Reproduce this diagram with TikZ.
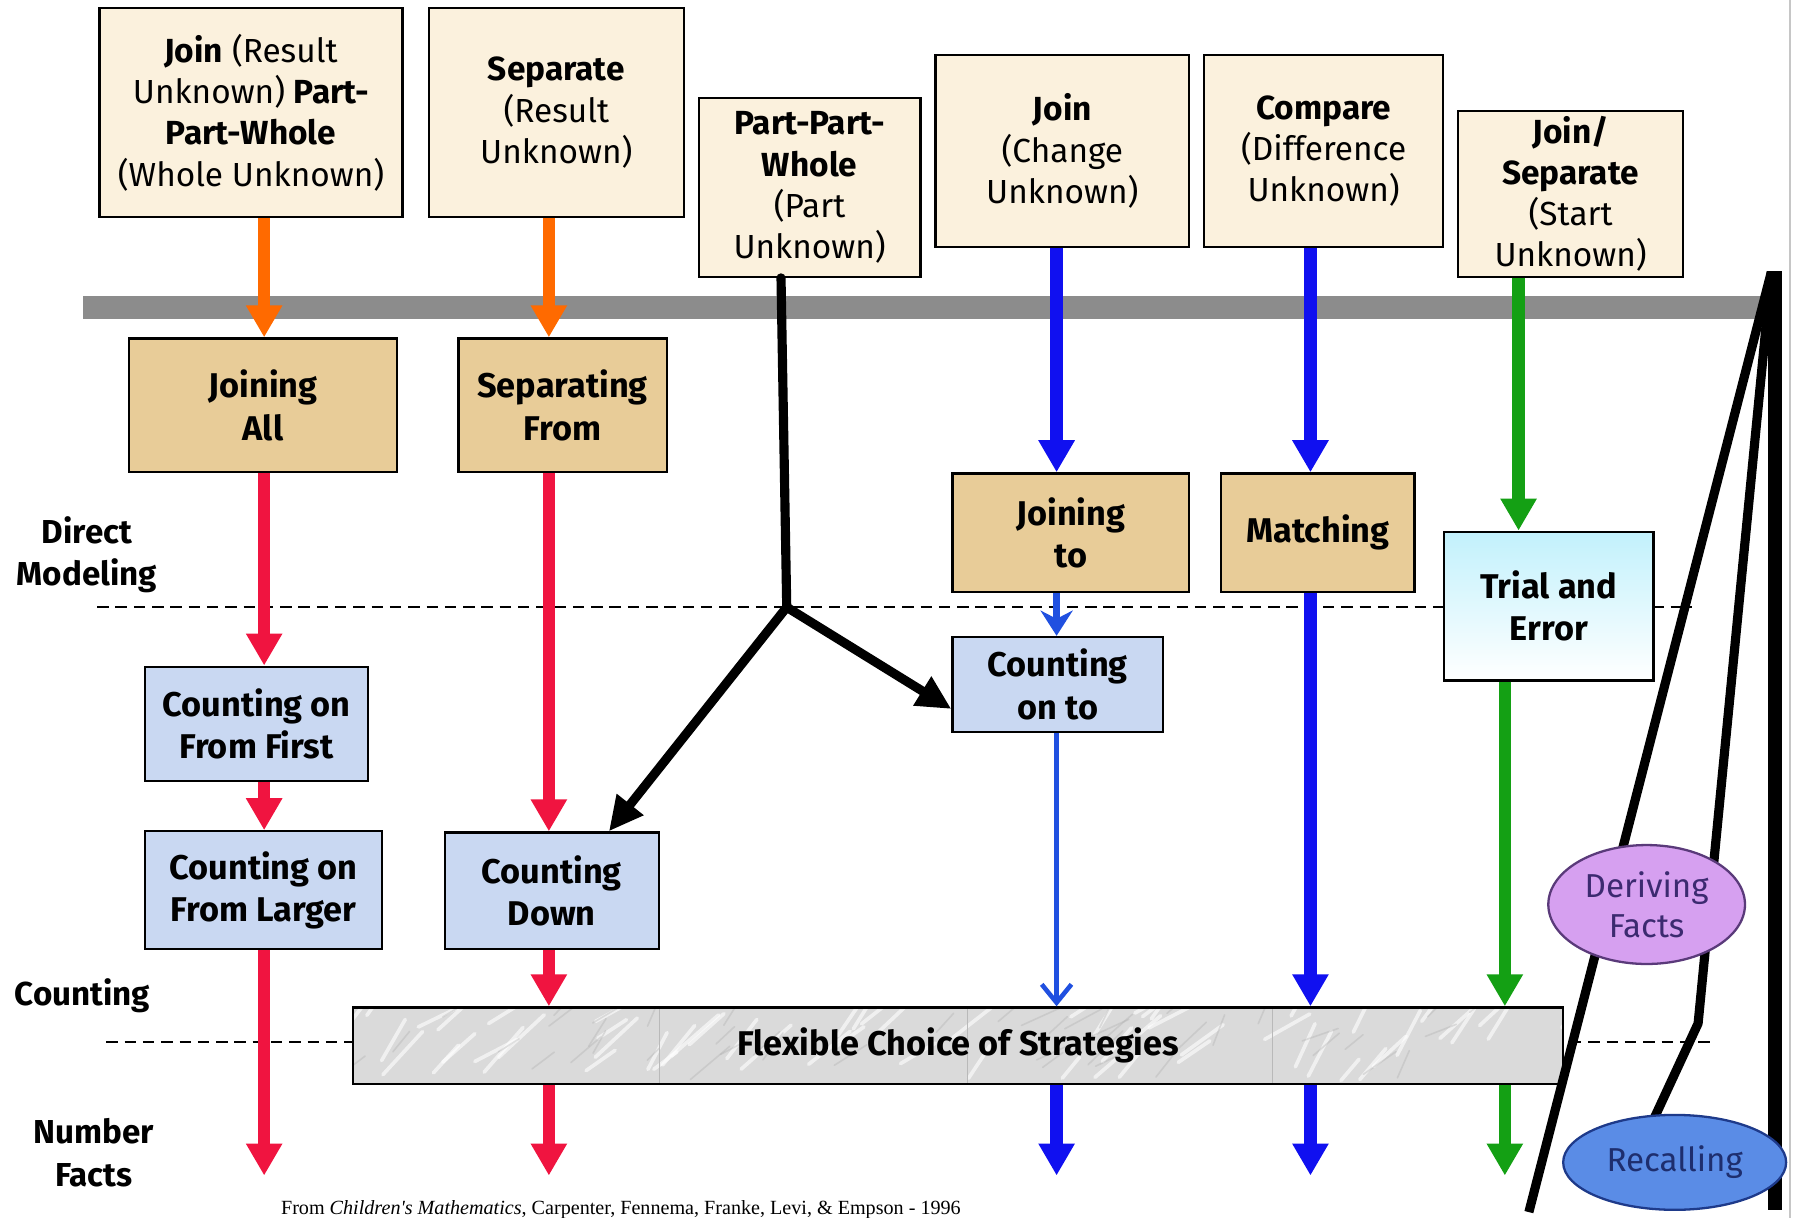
\documentclass[tikz,border=0pt]{standalone}
\usepackage{fontspec}
\setmainfont{Fira Sans}
\newfontfamily\citefont{Liberation Serif}
\usetikzlibrary{arrows.meta,shapes.geometric,calc}
\definecolor{cream}{HTML}{FBF1DD}
\definecolor{tanfill}{HTML}{E8CC98}
\definecolor{lblue}{HTML}{C9D8F2}
\definecolor{cyantop}{HTML}{C2F1FC}
\definecolor{marble}{HTML}{DADADA}
\definecolor{barg}{HTML}{8C8C8C}
\definecolor{orangec}{HTML}{FF6A00}
\definecolor{redc}{HTML}{F01440}
\definecolor{bluec}{HTML}{1010F0}
\definecolor{bluethin}{HTML}{2050E0}
\definecolor{greenc}{HTML}{14A014}
\definecolor{derfill}{HTML}{D6A0F0}
\definecolor{derdraw}{HTML}{5A3A7A}
\definecolor{dertext}{HTML}{3C2A70}
\definecolor{recfill}{HTML}{5A8CE6}
\definecolor{recdraw}{HTML}{1E3A8A}
\definecolor{rectext}{HTML}{1E2E6E}
\begin{document}
\begin{tikzpicture}[x=0.5pt,y=-0.5pt,
  sz/.style 2 args={minimum width=#1*0.5pt,minimum height=#2*0.5pt},
  probbox/.style={draw=black,line width=1pt,fill=cream,align=center,inner sep=0pt,font=\fontsize{14.6}{18}\selectfont},
  stratbox/.style={draw=black,line width=1pt,fill=tanfill,align=center,inner sep=0pt,font=\bfseries\fontsize{15}{18.5}\selectfont},
  countbox/.style={stratbox,fill=lblue},
  trialbox/.style={stratbox,top color=cyantop,bottom color=white},
  sidelab/.style={align=center,font=\bfseries\fontsize{14.5}{18.5}\selectfont},
  dashline/.style={dash pattern=on 5pt off 3pt,line width=0.8pt},
  fatarrow/.style={line width=5.5pt,-{Triangle[width=15pt,length=14pt]}},
  orangearr/.style={fatarrow,draw=orangec},
  redarr/.style={fatarrow,draw=redc},
  bluearr/.style={fatarrow,draw=bluec},
  greenarr/.style={fatarrow,draw=greenc},
  blackline/.style={line width=4pt,line cap=round},
  blackarr/.style={line width=4pt,-{Triangle[width=14pt,length=15pt]}},
  factoval/.style={ellipse,inner sep=0pt,line width=1pt,font=\fontsize{14.5}{17.5}\selectfont,align=center}
]
\useasboundingbox (0,0) rectangle (1568,1065);
\fill[white] (0,0) rectangle (1568,1065);

% columns and free ends
\coordinate (colR1) at (231,0);
\coordinate (colR2) at (480,0);
\coordinate (colB1) at (924,0);
\coordinate (colB2) at (1146,0);
\coordinate (colG1) at (1328,0);
\coordinate (colG2) at (1316,0);
\coordinate (endR1) at (231,1028);
\coordinate (endR2) at (480,1028);
\coordinate (endB1) at (924,1028);
\coordinate (endB2) at (1146,1028);
\coordinate (endG) at (1316,1028);

% dashed level lines and gray bar
\draw[dashline] (85,531) -- (1480,531);
\draw[dashline] (93,911) -- (1500,911);
\fill[barg] (73,259) rectangle (1545,279);
\draw[gray!45,line width=0.8pt] (1565,0) -- (1565,1065);

% problem boxes
\node[probbox,sz={265}{183}] (pA) at (219.5,98.5) {\textbf{Join} (Result\\Unknown) \textbf{Part-}\\\textbf{Part-Whole}\\(Whole Unknown)};
\node[probbox,sz={223}{183}] (pB) at (486.5,98.5) {\textbf{Separate}\\(Result\\Unknown)};
\node[probbox,sz={194}{156}] (pC) at (708,164) {\textbf{Part-Part-}\\\textbf{Whole}\\(Part\\Unknown)};
\node[probbox,sz={222}{168}] (pD) at (929,132) {\textbf{Join}\\(Change\\Unknown)};
\node[probbox,sz={209}{168}] (pE) at (1157.5,132) {\textbf{Compare}\\(Difference\\Unknown)};
\node[probbox,sz={197}{145}] (pF) at (1373.5,169.5) {\textbf{Join/}\\\textbf{Separate}\\(Start\\Unknown)};

% strategy boxes
\node[stratbox,sz={234}{117}] (ja) at (230,354.5) {Joining\\All};
\node[stratbox,sz={182}{117}] (sf) at (492,354.5) {Separating\\From};
\node[stratbox,sz={207}{104}] (jt) at (936.5,466) {Joining\\to};
\node[stratbox,sz={169}{104}] (mt) at (1152.5,466) {Matching};
\node[trialbox,sz={183}{130}] (te) at (1354.5,530) {Trial and\\Error};
\node[countbox,sz={195}{100}] (coff) at (224.5,633) {Counting on\\From First};
\node[countbox,sz={184}{83}] (cot) at (925,598.5) {Counting\\on to};
\node[countbox,sz={207}{103}] (cofl) at (230.5,778.5) {Counting on\\From Larger};
\node[countbox,sz={187}{102}] (cd) at (482.5,779) {Counting\\Down};

% flexible bar with marble look
\fill[marble] (309,881) rectangle (1367,948);
\begin{scope}
\clip (309,881) rectangle (1367,948);
\pgfmathsetseed{7}
\foreach \i in {1,...,60} {
  \pgfmathsetmacro{\xa}{300+rnd*1080}
  \pgfmathsetmacro{\ya}{885+rnd*60}
  \pgfmathsetmacro{\dx}{15+rnd*30}
  \pgfmathsetmacro{\dy}{15+rnd*25}
  \draw[white,opacity=0.6,line width=1.6pt,line cap=round] (\xa,\ya) -- (\xa+\dx,\ya-\dy);
}
\pgfmathsetseed{11}
\foreach \i in {1,...,45} {
  \pgfmathsetmacro{\xa}{300+rnd*1080}
  \pgfmathsetmacro{\ya}{885+rnd*60}
  \pgfmathsetmacro{\dx}{10+rnd*25}
  \pgfmathsetmacro{\dy}{10+rnd*20}
  \draw[gray!70,opacity=0.3,line width=0.7pt,line cap=round] (\xa,\ya) -- (\xa+\dx,\ya-\dy);
}
\foreach \x in {577,846,1113} \draw[gray!55,line width=0.5pt] (\x,881) -- (\x,948);
\end{scope}
\node[draw=black,line width=1pt,inner sep=0pt,sz={1058}{67},font=\bfseries\fontsize{15}{18}\selectfont] (flex) at (838,914.5) {Flexible Choice of Strategies};

% side labels
\node[sidelab] (ldm) at (76,485) {Direct\\Modeling};
\node[sidelab] (lct) at (72,871) {Counting};
\node[sidelab] (lnf) at (82,1008) {Number\\Facts};

% orange arrows
\draw[orangearr] (pA.south -| colR1) -- (ja.north -| colR1);
\draw[orangearr] (pB.south -| colR2) -- (sf.north -| colR2);
% red arrows
\draw[redarr] (ja.south -| colR1) -- (coff.north -| colR1);
\draw[redarr] (coff.south -| colR1) -- (cofl.north -| colR1);
\draw[redarr] (cofl.south -| colR1) -- (endR1);
\draw[redarr] (sf.south -| colR2) -- (cd.north -| colR2);
\draw[redarr] (cd.south -| colR2) -- (flex.north -| colR2);
\draw[redarr] (flex.south -| colR2) -- (endR2);
% blue arrows
\draw[bluearr] (pD.south -| colB1) -- (jt.north -| colB1);
\draw[bluearr] (pE.south -| colB2) -- (mt.north -| colB2);
\draw[bluethin,line width=3pt,-{Stealth[width=14pt,length=11pt]}] (jt.south -| colB1) -- (cot.north -| colB1);
\draw[bluethin,line width=2pt,-{Straight Barb[width=13pt,length=8pt]}] (cot.south -| colB1) -- (flex.north -| colB1);
\draw[bluearr] (mt.south -| colB2) -- (flex.north -| colB2);
\draw[bluearr] (flex.south -| colB1) -- (endB1);
\draw[bluearr] (flex.south -| colB2) -- (endB2);
% green arrows
\draw[greenarr] (pF.south -| colG1) -- (te.north -| colG1);
\draw[greenarr] (te.south -| colG2) -- (flex.north -| colG2);
\draw[greenarr] (flex.south -| colG2) -- (endG);

% black branching arrow from Part-Part-Whole
\coordinate (jn) at (688,531);
\draw[blackline] ([xshift=-12.5pt]pC.south) -- (jn);
\draw[blackarr] (jn) -- ([xshift=25pt]cd.north);
\draw[blackarr] (jn) -- ([yshift=-10.75pt]cot.west);

% right-hand lines
\coordinate (apex) at (1549,238);
\coordinate (lowA) at (1337,1060);
\coordinate (bend) at (1485,895);
\draw[line width=6pt] (1552,237) -- (1552,1058);
\draw[line width=4pt] (lowA) -- (apex);
\draw[line width=4pt,line join=round] (apex) -- (bend) -- (1447,977);

% fact ovals
\node[factoval,draw=derdraw,fill=derfill,text=dertext,minimum width=86pt,minimum height=52pt] (der) at (1440,791) {Deriving\\Facts};
\node[factoval,draw=recdraw,fill=recfill,text=rectext,minimum width=97.5pt,minimum height=41.5pt] (rec) at (1464.5,1016.5) {Recalling};

% citation
\node[font=\citefont\fontsize{8.8}{10}\selectfont] (cite) at (543,1058) {From \textit{Children's Mathematics}, Carpenter, Fennema, Franke, Levi, \& Empson - 1996};
\end{tikzpicture}
\end{document}
